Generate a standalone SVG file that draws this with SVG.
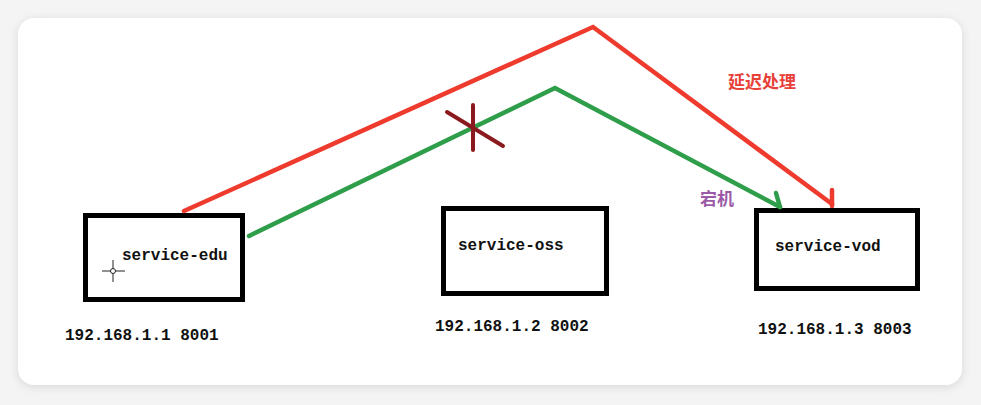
<svg xmlns="http://www.w3.org/2000/svg" width="981" height="405" viewBox="0 0 981 405">
  <defs>
    <filter id="sh" x="-5%" y="-10%" width="110%" height="120%">
      <feGaussianBlur stdDeviation="5"/>
    </filter>
    <style>
      .box{fill:#fff;stroke:#000;stroke-width:5}
      .lbl{font-family:"Liberation Mono","DejaVu Sans Mono",monospace;font-size:16px;font-weight:bold;fill:#111}
      .ip{font-family:"Liberation Mono","DejaVu Sans Mono",monospace;font-size:16px;font-weight:bold;fill:#111}
      .red{fill:none;stroke:#ee3b2e;stroke-width:4.5;stroke-linecap:round;stroke-linejoin:miter}
      .green{fill:none;stroke:#2f9e4a;stroke-width:4.5;stroke-linecap:round;stroke-linejoin:miter}
      .cn{font-family:"Noto Sans CJK SC","Noto Sans",sans-serif;font-weight:bold}
    </style>
  </defs>
  <rect width="981" height="405" fill="#f4f4f4"/>
  <rect x="18" y="20" width="944" height="367" rx="16" fill="#d8d8d8" filter="url(#sh)"/>
  <rect x="18" y="18" width="944" height="367" rx="16" fill="#fff"/>

  <g id="node-edu">
    <rect class="box" x="85.5" y="215.5" width="157" height="84"/>
    <text class="lbl" x="122" y="260">service-edu</text>
    <g stroke="#222" stroke-width="1">
      <line x1="102" y1="271" x2="125" y2="271"/>
      <line x1="113" y1="260" x2="113" y2="282"/>
      <circle cx="113" cy="271" r="2.5" fill="#fff"/>
    </g>
  </g>
  <g id="node-oss">
    <rect class="box" x="443.5" y="208.5" width="163" height="85"/>
    <text class="lbl" x="458" y="250">service-oss</text>
  </g>
  <g id="node-vod">
    <rect class="box" x="756.5" y="210.5" width="161" height="78"/>
    <text class="lbl" x="775" y="251">service-vod</text>
  </g>

  <g id="ips">
    <text class="ip" x="65" y="340">192.168.1.1 8001</text>
    <text class="ip" x="435" y="331">192.168.1.2 8002</text>
    <text class="ip" x="758" y="334">192.168.1.3 8003</text>
  </g>

  <g id="connectors">
    <polyline class="red" points="184,211 593,27 832,204"/>
    <line class="red" x1="832" y1="190" x2="832" y2="206"/>
    <polyline class="green" points="249,236 555,88 780,207"/>
    <line class="green" x1="776" y1="193" x2="780" y2="207"/>
    <g stroke="#8b1a1e" stroke-width="4" stroke-linecap="round">
      <line x1="447" y1="112" x2="503" y2="146"/>
      <line x1="473" y1="105" x2="473" y2="150"/>
    </g>
  </g>

  <g id="labels">
    <text class="cn" x="728" y="88" font-size="17" fill="#e8413a">延迟处理</text>
    <text class="cn" x="700" y="205" font-size="17" fill="#9b5aa8">宕机</text>
  </g>
</svg>
